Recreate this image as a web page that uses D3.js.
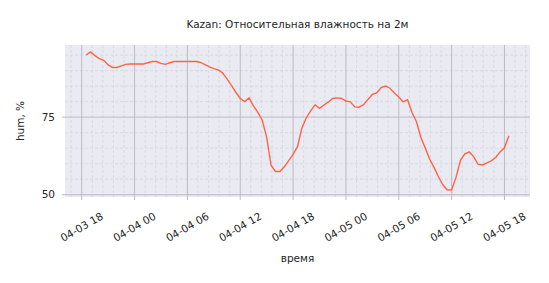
<!DOCTYPE html>
<html lang="ru">
<head>
<meta charset="UTF-8">
<title>Kazan humidity</title>
<script src="https://d3js.org/d3.v7.min.js"></script>
<style>
  body { margin: 0; background: #fff; }
  text { font-family: "DejaVu Sans", sans-serif; fill: #262626; }
</style>
</head>
<body>
<div id="chart"></div>
<script>
// data: relative humidity at 2 m, every 30 minutes from 04-03 18:30
const startTime = "2024-04-03T18:30:00"
const stepMinutes = 30
const hum = [
  95.0, 96.0, 94.8, 93.8, 93.3, 91.8, 91.0, 91.0, 91.5, 92.0,
  92.1, 92.1, 92.1, 92.1, 92.5, 92.9, 92.9, 92.3, 92.0, 92.5,
  92.9, 92.9, 92.9, 92.9, 92.9, 92.9, 92.6, 91.9, 91.2, 90.6,
  90.2, 89.2, 87.3, 85.2, 83.0, 81.0, 80.0, 81.2, 78.6, 76.5,
  74.0, 68.5, 59.5, 57.5, 57.5, 59.0, 61.0, 63.0, 65.5, 71.5,
  74.8, 77.0, 79.0, 77.8, 78.9, 79.8, 81.0, 81.2, 81.0, 80.2,
  79.9, 78.3, 78.2, 79.0, 80.7, 82.3, 82.8, 84.5, 85.0, 84.3,
  82.8, 81.5, 79.9, 80.6, 76.5, 73.6, 68.5, 65.1, 61.5, 58.8,
  55.8, 53.2, 51.6, 51.5, 55.6, 61.1, 63.2, 63.8, 62.3, 59.8,
  59.6, 60.3, 60.9, 62.0, 63.8, 65.1, 69.0
]
const yTicks = [50, 75]
const xTickLabels = ["04-03 18", "04-04 00", "04-04 06", "04-04 12", "04-04 18",
                     "04-05 00", "04-05 06", "04-05 12", "04-05 18"]

const parse = d3.timeParse("%Y-%m-%dT%H:%M:%S")
const t0 = parse(startTime)
const data = hum.map((v, i) => ({ t: d3.timeMinute.offset(t0, i * stepMinutes), v: v }))

const width = 549, height = 283
const margin = { top: 45, right: 19, bottom: 86, left: 65 }
const iw = width - margin.left - margin.right
const ih = height - margin.top - margin.bottom

const svg = d3.select("#chart").append("svg")
  .attr("width", width).attr("height", height)

// matplotlib style 5% margins around the data
const tExt = d3.extent(data, d => d.t)
const tPad = (tExt[1] - tExt[0]) * 0.05
const vExt = d3.extent(hum)
const vPad = (vExt[1] - vExt[0]) * 0.05

const x = d3.scaleTime()
  .domain([new Date(+tExt[0] - tPad), new Date(+tExt[1] + tPad)])
  .range([0, iw])
const y = d3.scaleLinear()
  .domain([vExt[0] - vPad, vExt[1] + vPad])
  .range([ih, 0])

const xTicks = xTickLabels.map(s => d3.timeParse("%m-%d %H")(s))
xTicks.forEach(d => d.setFullYear(t0.getFullYear()))

const g = svg.append("g").attr("transform", `translate(${margin.left},${margin.top})`)

g.append("rect").attr("width", iw).attr("height", ih).attr("fill", "#eaeaf2")

// minor grid (5 subdivisions per major step)
const minorStep = 72 * 60000
const dom = x.domain()
const k0 = Math.ceil((dom[0] - xTicks[0]) / minorStep)
const k1 = Math.floor((dom[1] - xTicks[0]) / minorStep)
const minorX = d3.range(k0, k1 + 1).filter(k => k % 5 !== 0)
  .map(k => new Date(+xTicks[0] + k * minorStep))
const minorY = d3.range(50, y.domain()[1], 5).filter(v => v % 25 !== 0)

g.append("g").selectAll("line").data(minorX).join("line")
  .attr("x1", d => x(d)).attr("x2", d => x(d))
  .attr("y1", 0).attr("y2", ih)
  .attr("stroke", "#d6d6e0").attr("stroke-dasharray", "3,2").attr("stroke-width", 0.8)
g.append("g").selectAll("line").data(minorY).join("line")
  .attr("x1", 0).attr("x2", iw)
  .attr("y1", d => y(d)).attr("y2", d => y(d))
  .attr("stroke", "#d6d6e0").attr("stroke-dasharray", "3,2").attr("stroke-width", 0.8)

// major grid
g.append("g").selectAll("line").data(xTicks).join("line")
  .attr("x1", d => x(d)).attr("x2", d => x(d))
  .attr("y1", 0).attr("y2", ih + 3)
  .attr("stroke", "#bcbcc4").attr("stroke-width", 1)
g.append("g").selectAll("line").data(yTicks).join("line")
  .attr("x1", -3).attr("x2", iw)
  .attr("y1", d => y(d)).attr("y2", d => y(d))
  .attr("stroke", "#bcbcc4").attr("stroke-width", 1)

// tick labels
g.append("g").selectAll("text").data(yTicks).join("text")
  .attr("x", -10).attr("y", d => y(d))
  .attr("text-anchor", "end").attr("dy", "0.35em")
  .style("font-size", "10.5px")
  .text(d => d)

g.append("g").selectAll("text").data(xTicks).join("text")
  .attr("transform", d => `translate(${x(d)},${ih + 30}) rotate(-30)`)
  .attr("text-anchor", "middle").attr("dy", "0.35em")
  .style("font-size", "10.5px")
  .text((d, i) => xTickLabels[i])

// line
g.append("path").datum(data)
  .attr("fill", "none")
  .attr("stroke", "#ff6347")
  .attr("stroke-width", 1.4)
  .attr("d", d3.line().x(d => x(d.t)).y(d => y(d.v)))

// titles
svg.append("text")
  .attr("x", margin.left + iw / 2).attr("y", 28)
  .attr("text-anchor", "middle").style("font-size", "10.5px")
  .text("Kazan: Относительная влажность на 2м")
svg.append("text")
  .attr("x", margin.left + iw / 2).attr("y", 262)
  .attr("text-anchor", "middle").style("font-size", "10.5px")
  .text("время")
svg.append("text")
  .attr("transform", `translate(24,${margin.top + ih / 2}) rotate(-90)`)
  .attr("text-anchor", "middle").style("font-size", "10.5px")
  .text("hum, %")
</script>
</body>
</html>
